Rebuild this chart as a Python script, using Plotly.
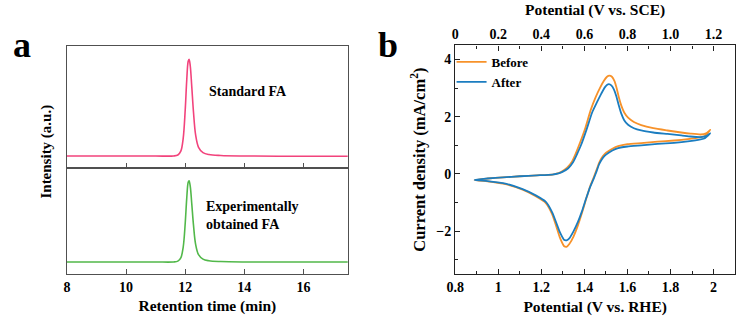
import plotly.graph_objects as go

# ---------------- data: panel a (HPLC chromatograms) ----------------
rt_std = [8.0, 10.0, 11.0, 11.6, 11.75, 11.85, 11.93, 12.0, 12.05, 12.1, 12.13, 12.17,
          12.22, 12.28, 12.35, 12.45, 12.6, 12.8, 13.2, 14.0, 16.0, 17.5]
int_std = [0.0, 0.0, 0.0, 0.0, 0.01, 0.05, 0.18, 0.48, 0.78, 0.98, 1.0, 0.93,
           0.72, 0.45, 0.22, 0.09, 0.035, 0.015, 0.005, 0.0, -0.003, -0.003]
rt_exp = [8.0, 10.0, 11.0, 11.6, 11.75, 11.85, 11.93, 12.0, 12.05, 12.1, 12.13, 12.17,
          12.22, 12.28, 12.35, 12.45, 12.6, 12.8, 13.2, 14.0, 16.0, 17.5]
int_exp = [0.0, 0.0, 0.0, 0.0, 0.01, 0.05, 0.18, 0.48, 0.78, 0.98, 1.0, 0.93,
           0.72, 0.45, 0.22, 0.09, 0.035, 0.015, 0.005, 0.0, 0.0, 0.0]
rt_ticks = [8, 10, 12, 14, 16]

# ---------------- data: panel b (CV, potential vs RHE / current density) ----------------
E_before = [0.89, 0.95, 1.022, 1.10, 1.18, 1.251, 1.28, 1.297, 1.32, 1.343, 1.36, 1.38,
            1.404, 1.43, 1.452, 1.472, 1.49, 1.505, 1.516, 1.528, 1.54, 1.55, 1.56,
            1.572, 1.585, 1.603, 1.63, 1.664, 1.72,
            1.786, 1.85, 1.893, 1.94, 1.965, 1.985,
            1.96, 1.94, 1.88, 1.817, 1.74, 1.664, 1.60, 1.557, 1.53, 1.511, 1.495, 1.48,
            1.468, 1.457, 1.443, 1.427, 1.408, 1.389, 1.37, 1.35, 1.33, 1.317, 1.305,
            1.297, 1.285, 1.274, 1.251, 1.22, 1.174, 1.113, 1.022, 0.95, 0.89]
J_before = [-0.21, -0.16, -0.12, -0.08, -0.05, -0.02, 0.03, 0.09, 0.22, 0.44, 0.72, 1.1,
            1.6, 2.25, 2.68, 3.0, 3.25, 3.4, 3.44, 3.4, 3.25, 3.0, 2.68,
            2.38, 2.15, 1.97, 1.82, 1.71, 1.6,
            1.52, 1.45, 1.41, 1.38, 1.42, 1.54,
            1.33, 1.29, 1.22, 1.17, 1.13, 1.08, 1.04, 0.97, 0.88, 0.79, 0.7, 0.56,
            0.38, 0.15, -0.13, -0.43, -0.88, -1.36, -1.8, -2.18, -2.45, -2.55, -2.52,
            -2.41, -2.2, -1.94, -1.42, -1.01, -0.78, -0.55, -0.34, -0.26, -0.21]
E_after = [0.89, 0.95, 1.022, 1.10, 1.18, 1.251, 1.28, 1.30, 1.325, 1.348, 1.365, 1.385,
           1.41, 1.436, 1.458, 1.478, 1.494, 1.506, 1.514, 1.525, 1.537, 1.548, 1.558,
           1.572, 1.585, 1.603, 1.63, 1.664, 1.72,
           1.786, 1.85, 1.893, 1.94, 1.965, 1.985,
           1.96, 1.94, 1.88, 1.817, 1.74, 1.664, 1.60, 1.557, 1.53, 1.511, 1.495, 1.48,
           1.468, 1.457, 1.443, 1.427, 1.408, 1.389, 1.37, 1.35, 1.33, 1.317, 1.305,
           1.297, 1.285, 1.274, 1.251, 1.22, 1.174, 1.113, 1.022, 0.95, 0.89]
J_after = [-0.21, -0.16, -0.12, -0.08, -0.05, -0.02, 0.02, 0.08, 0.2, 0.42, 0.68, 1.02,
           1.55, 2.15, 2.5, 2.8, 3.02, 3.12, 3.14, 3.1, 2.96, 2.73, 2.45,
           2.1, 1.88, 1.72, 1.6, 1.52, 1.45,
           1.40, 1.35, 1.31, 1.29, 1.32, 1.42,
           1.25, 1.21, 1.14, 1.09, 1.05, 1.0, 0.96, 0.9, 0.82, 0.73, 0.64, 0.5,
           0.33, 0.1, -0.17, -0.45, -0.86, -1.3, -1.68, -2.0, -2.25, -2.32, -2.3,
           -2.2, -2.02, -1.8, -1.35, -0.97, -0.75, -0.53, -0.32, -0.25, -0.21]
rhe_ticks = [0.8, 1.0, 1.2, 1.4, 1.6, 1.8, 2.0]
rhe_labels = ["0.8", "1", "1.2", "1.4", "1.6", "1.8", "2"]
sce_ticks = [0.0, 0.2, 0.4, 0.6, 0.8, 1.0, 1.2]
sce_labels = ["0", "0.2", "0.4", "0.6", "0.8", "1.0", "1.2"]
j_ticks = [-2, 0, 2, 4]
j_labels = ["\u22122", "0", "2", "4"]

FONT = "Liberation Serif"
PINK = "#F2437C"
GREEN = "#52B84A"
ORANGE = "#F7922A"
BLUE = "#1B7DC0"
FRAME_A = "#505050"
FRAME_B = "#222222"

W, H = 741, 319
def px(x):
    return x / W
def py(y):
    return 1 - y / H

fig = go.Figure()

fig.add_trace(go.Scatter(x=rt_std, y=int_std, mode="lines", line=dict(color=PINK, width=1.6),
                         xaxis="x", yaxis="y", showlegend=False, line_shape="spline"))
fig.add_trace(go.Scatter(x=rt_exp, y=int_exp, mode="lines", line=dict(color=GREEN, width=1.6),
                         xaxis="x2", yaxis="y2", showlegend=False, line_shape="spline"))

fig.add_trace(go.Scatter(x=E_before, y=J_before, mode="lines", name="Before",
                         line=dict(color=ORANGE, width=1.8, shape="spline", smoothing=0.5),
                         xaxis="x3", yaxis="y3"))
fig.add_trace(go.Scatter(x=E_after, y=J_after, mode="lines", name="After",
                         line=dict(color=BLUE, width=1.8, shape="spline", smoothing=0.5),
                         xaxis="x3", yaxis="y3"))
fig.add_trace(go.Scatter(x=[], y=[], xaxis="x4", yaxis="y3", showlegend=False))

tickfont_a = dict(family=FONT, size=14, color="black", weight="bold")
tickfont_b = dict(family=FONT, size=14, color="black", weight="bold")

xa_dom = [px(58.7), px(343)]
xb_dom = [px(451.7), px(735)]

fig.update_layout(
    width=W, height=H, margin=dict(l=0, r=0, t=0, b=0),
    paper_bgcolor="white", plot_bgcolor="white",
    font=dict(family=FONT, color="black"),
    # panel a top
    xaxis=dict(domain=xa_dom, anchor="y", range=[8, 17.5], tickvals=rt_ticks,
               showticklabels=False, ticks="inside", ticklen=5, tickcolor=FRAME_A,
               showline=True, linecolor=FRAME_A, linewidth=1.2, mirror=True,
               showgrid=False, zeroline=False),
    yaxis=dict(domain=[py(167.7), py(45.7)], anchor="x", range=[-0.121, 1.14],
               showticklabels=False, ticks="", showline=True, linecolor=FRAME_A,
               linewidth=1.2, mirror=True, showgrid=False, zeroline=False),
    # panel a bottom
    xaxis2=dict(domain=xa_dom, anchor="y2", range=[8, 17.5], tickvals=rt_ticks,
                ticks="inside", ticklen=5, tickcolor=FRAME_A, tickfont=tickfont_a,
                showline=True, linecolor=FRAME_A, linewidth=1.2, mirror=True,
                showgrid=False, zeroline=False,
                title=dict(text="Retention time (min)", standoff=6,
                           font=dict(family=FONT, size=15.5, weight="bold"))),
    yaxis2=dict(domain=[py(274), py(167.7)], anchor="x2", range=[-0.148, 1.16],
                showticklabels=False, ticks="", showline=True, linecolor=FRAME_A,
                linewidth=1.2, mirror=True, showgrid=False, zeroline=False),
    # panel b bottom (RHE)
    xaxis3=dict(domain=xb_dom, anchor="y3", range=[0.8, 2.1], tickvals=rhe_ticks,
                ticktext=rhe_labels, ticks="inside", ticklen=5, tickwidth=1.2,
                tickcolor=FRAME_B, tickfont=tickfont_b,
                minor=dict(dtick=0.1, ticks="inside", ticklen=3, tickcolor=FRAME_B),
                showline=True, linecolor=FRAME_B, linewidth=1.4, mirror=False,
                showgrid=False, zeroline=False,
                title=dict(text="Potential (V vs. RHE)", standoff=7,
                           font=dict(family=FONT, size=15.5, weight="bold"))),
    # panel b top (SCE)
    xaxis4=dict(domain=xb_dom, anchor="y3", overlaying="x3", side="top",
                range=[0.0, 1.3], tickvals=sce_ticks, ticktext=sce_labels,
                ticks="inside", ticklen=5, tickwidth=1.2, tickcolor=FRAME_B,
                tickfont=tickfont_b,
                minor=dict(dtick=0.1, ticks="inside", ticklen=3, tickcolor=FRAME_B),
                showline=True, linecolor=FRAME_B, linewidth=1.4,
                showgrid=False, zeroline=False,
                title=dict(text="Potential (V vs. SCE)", standoff=7,
                           font=dict(family=FONT, size=15.5, weight="bold"))),
    yaxis3=dict(domain=[py(274), py(45.3)], anchor="x3", range=[-3.5, 4.5],
                tickvals=j_ticks, ticktext=j_labels, ticks="inside", ticklen=5,
                tickwidth=1.2, tickcolor=FRAME_B, tickfont=tickfont_b,
                minor=dict(dtick=1, ticks="inside", ticklen=3, tickcolor=FRAME_B),
                showline=True, linecolor=FRAME_B, linewidth=1.4, mirror=True,
                showgrid=False, zeroline=False,
                title=dict(text="Current density (mA/cm<sup>2</sup>)", standoff=6,
                           font=dict(family=FONT, size=16.5, weight="bold"))),
    legend=dict(x=px(448), y=py(47), xanchor="left", yanchor="top",
                bgcolor="rgba(0,0,0,0)", borderwidth=0, itemwidth=30,
                font=dict(family=FONT, size=13, color="black", weight="bold"),
                tracegroupgap=0),
)

fig.add_annotation(text="Intensity (a.u.)", xref="paper", yref="paper",
                   x=px(37), y=py(152), xanchor="center", yanchor="middle",
                   textangle=-90, showarrow=False,
                   font=dict(family=FONT, size=15, weight="bold"))
fig.add_annotation(text="Standard FA", xref="paper", yref="paper",
                   x=px(200), y=py(91.7), xanchor="left", yanchor="middle", showarrow=False,
                   font=dict(family=FONT, size=14, weight="bold"))
fig.add_annotation(text="Experimentally<br>obtained FA", xref="paper", yref="paper",
                   x=px(197.5), y=py(215.5), xanchor="left", yanchor="middle",
                   align="left", showarrow=False,
                   font=dict(family=FONT, size=14, weight="bold"))
fig.add_annotation(text="a", xref="paper", yref="paper", x=px(13.5), y=py(45),
                   xanchor="center", yanchor="middle",
                   showarrow=False, font=dict(family=FONT, size=36, weight="bold"))
fig.add_annotation(text="b", xref="paper", yref="paper", x=px(384), y=py(45),
                   xanchor="center", yanchor="middle",
                   showarrow=False, font=dict(family=FONT, size=36, weight="bold"))

fig.write_html("out.html")
